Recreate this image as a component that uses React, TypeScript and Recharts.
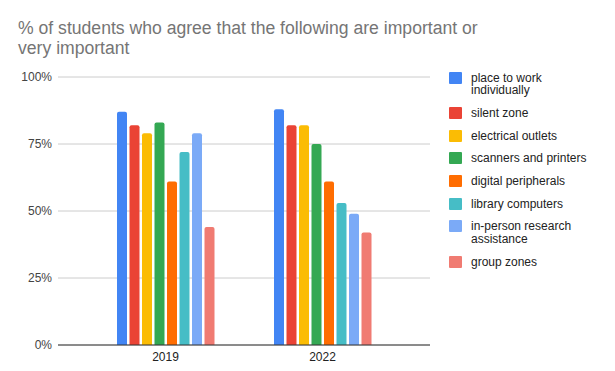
import { Bar, BarChart, CartesianGrid, XAxis, YAxis } from "recharts";

const years = ["2019", "2022"];

const seriesNames = [
  "place to work individually",
  "silent zone",
  "electrical outlets",
  "scanners and printers",
  "digital peripherals",
  "library computers",
  "in-person research assistance",
  "group zones",
];

// legend labels wrap like the original
const legendLines = [
  ["place to work", "individually"],
  ["silent zone"],
  ["electrical outlets"],
  ["scanners and printers"],
  ["digital peripherals"],
  ["library computers"],
  ["in-person research", "assistance"],
  ["group zones"],
];

const titleLines = ["% of students who agree that the following are important or", "very important"];

const colors = ["#4285F4", "#EA4335", "#FBBC04", "#34A853", "#FF6D01", "#46BDC6", "#7BAAF7", "#F07B72"];

// % agreeing, per series: [2019, 2022]
const individual = [87, 88];
const silent = [82, 82];
const outlets = [79, 82];
const scanners = [83, 75];
const peripherals = [61, 61];
const computers = [72, 53];
const research = [79, 49];
const group = [44, 42];

const yTicks = [0, 25, 50, 75, 100];

const seriesValues = [individual, silent, outlets, scanners, peripherals, computers, research, group];

const rows = years.map((year, i) => {
  const row: Record<string, string | number> = { year };
  seriesNames.forEach((name, s) => {
    row[name] = seriesValues[s][i];
  });
  return row;
});

const FONT = "'Liberation Sans', Arial, sans-serif";

export default function App() {
  return (
    <div style={{ position: "absolute", left: 0, top: 0, width: 615, height: 371, background: "#fff", fontFamily: FONT }}>
      <div
        style={{
          position: "absolute",
          left: 18,
          top: 18,
          fontSize: 17.6,
          lineHeight: "20px",
          color: "#757575",
          whiteSpace: "nowrap",
        }}
      >
        {titleLines.map((l) => (
          <div key={l}>{l}</div>
        ))}
      </div>

      <BarChart
        width={615}
        height={371}
        data={rows}
        margin={{ top: 77, right: 185, bottom: 6, left: 8 }}
        barCategoryGap={30}
        barGap={2.5}
        style={{ position: "absolute", left: 0, top: 0 }}
      >
        <CartesianGrid vertical={false} stroke="#cccccc" />
        <XAxis
          dataKey="year"
          padding={{ left: 29, right: 29 }}
          tickLine={false}
          tickSize={0}
          tickMargin={7}
          height={20}
          axisLine={{ stroke: "#333333" }}
          tick={{ fill: "#222222", fontSize: 12, fontFamily: FONT }}
        />
        <YAxis
          domain={[0, 100]}
          ticks={yTicks}
          tickFormatter={(v) => `${v}%`}
          width={50}
          axisLine={false}
          tickLine={false}
          tickSize={0}
          tickMargin={6}
          tick={{ fill: "#444444", fontSize: 12, fontFamily: FONT }}
        />
        {seriesNames.map((name, i) => (
          <Bar key={name} dataKey={name} fill={colors[i]} radius={[2, 2, 0, 0]} isAnimationActive={false} />
        ))}
      </BarChart>

      {/* legend */}
      <div style={{ position: "absolute", left: 449, top: 71.75, fontSize: 12, color: "#222222" }}>
        {legendLines.map((lines, i) => (
          <div key={seriesNames[i]} style={{ position: "relative", paddingLeft: 22, marginBottom: 10.2, lineHeight: "12.5px" }}>
            <span
              style={{
                position: "absolute",
                left: 0,
                top: 0,
                width: 13,
                height: 12,
                borderRadius: 1,
                background: colors[i],
              }}
            />
            {lines.map((l) => (
              <div key={l}>{l}</div>
            ))}
          </div>
        ))}
      </div>
    </div>
  );
}
